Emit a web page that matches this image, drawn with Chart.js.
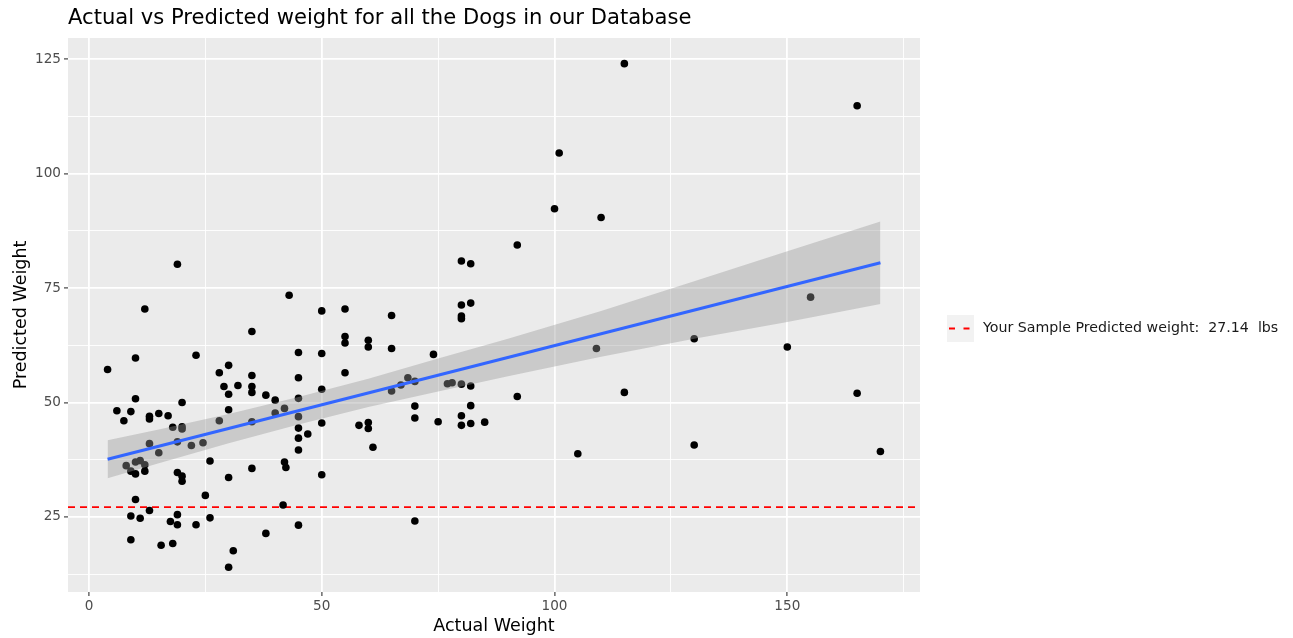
<!DOCTYPE html>
<html>
<head>
<meta charset="utf-8">
<script src="https://cdn.jsdelivr.net/npm/chart.js@4/dist/chart.umd.min.js"></script>
<style>
  html, body { margin: 0; padding: 0; background: #ffffff; }
  #wrap { width: 1293px; height: 638px; }
</style>
</head>
<body>
<div id="wrap"><canvas id="c" width="1293" height="638"></canvas></div>
<script>
// Observed dog weights (lbs) and the model's predictions for each dog
const actualWeight = [
  4, 6, 7.5, 9, 10, 10, 12, 13, 13, 15, 17, 18, 20, 20, 19, 20, 23, 28, 30, 29,
  32, 30, 30, 28, 13, 15, 19, 22, 24.5, 8, 10, 11, 12, 9, 10, 12, 26, 19, 20, 20,
  30, 10, 25, 13, 9, 11, 19, 17.5, 19, 23, 26, 9, 15.5, 18, 31, 30, 43, 50, 55, 65,
  35, 55, 55, 60, 60, 65, 45, 50, 35, 45, 55, 35, 35, 38, 40, 45, 42, 40, 45, 35,
  50, 50, 45, 45, 47, 45, 42, 42.3, 35, 50, 58, 60, 60, 61, 65, 67, 68.5, 70, 70, 70,
  80, 82, 80, 82, 80, 80, 74, 77, 78, 80, 82, 92, 82, 80, 80, 82, 85, 75, 41.7, 38,
  45, 70, 92, 100, 101, 110, 115, 105, 109, 115, 130, 130, 150, 155, 165, 165, 170
];
const predictedWeight = [
  57.2, 48.2, 46.0, 48.0, 59.7, 50.8, 70.4, 47.0, 46.4, 47.6, 47.1, 44.6, 44.7, 44.2, 80.2, 50.0, 60.3, 56.5, 58.1, 53.5,
  53.7, 51.8, 48.4, 46.0, 41.0, 39.0, 41.4, 40.6, 41.2, 36.2, 37.0, 37.3, 36.4, 35.0, 34.4, 35.0, 37.2, 34.7, 33.9, 32.8,
  33.6, 28.8, 29.7, 26.4, 25.2, 24.7, 25.5, 24.0, 23.3, 23.3, 24.8, 20.0, 18.8, 19.2, 17.6, 14.0, 73.4, 70.0, 70.4, 69.0,
  65.5, 64.4, 63.0, 63.6, 62.1, 61.8, 60.9, 60.7, 55.9, 55.4, 56.5, 53.5, 52.2, 51.6, 50.5, 50.9, 48.7, 47.7, 46.9, 45.8,
  52.9, 45.5, 44.4, 42.2, 43.1, 39.6, 37.0, 35.8, 35.6, 34.2, 45.0, 45.6, 44.3, 40.2, 52.5, 53.8, 55.4, 54.6, 49.2, 46.6,
  80.9, 80.3, 71.3, 71.7, 68.9, 68.3, 60.5, 54.1, 54.3, 54.0, 53.6, 51.3, 49.3, 47.1, 45.0, 45.4, 45.7, 45.8, 27.6, 21.4,
  23.2, 24.1, 84.4, 92.3, 104.5, 90.4, 124.0, 38.8, 61.8, 52.2, 63.9, 40.7, 62.1, 73.0, 114.8, 52.0, 39.3
];

// Prediction for the user's own sample
const sampleWeight = 27.14;

// Linear fit and its confidence band
const fitX = [4, 170];
const fitY = [37.6, 80.5];
const bandX = [4, 15, 30, 45, 60, 75, 90, 110, 130, 150, 170];
const bandLower = [33.45, 36.7, 41.1, 45.2, 49.0, 52.4, 55.7, 60.0, 63.9, 67.6, 71.5];
const bandUpper = [41.75, 44.1, 47.5, 51.2, 55.2, 59.6, 63.9, 70.0, 76.5, 83.0, 89.5];

// Axes
const xLimits = [-4.5, 178.5];
const yLimits = [8.6, 129.6];
const xGridValues = [0, 25, 50, 75, 100, 125, 150, 175];
const xLabelValues = [0, 50, 100, 150];
const yGridValues = [12.5, 25, 37.5, 50, 62.5, 75, 87.5, 100, 112.5, 125];
const yLabelValues = [25, 50, 75, 100, 125];

const FONT = "'DejaVu Sans', 'Noto Sans', sans-serif";
Chart.defaults.font.family = FONT;

const legendLabel = `Your Sample Predicted weight:  ${sampleWeight}  lbs`;

// Grey panel behind the grid
const panelPlugin = {
  id: 'panel',
  beforeDraw(chart) {
    const { ctx, chartArea: a } = chart;
    ctx.save();
    ctx.fillStyle = '#EBEBEB';
    ctx.fillRect(a.left, a.top, a.right - a.left, a.bottom - a.top);
    ctx.restore();
  }
};

// Legend for the sample line, to the right of the panel
const sideLegendPlugin = {
  id: 'sideLegend',
  afterDraw(chart) {
    const { ctx, chartArea: a } = chart;
    const ds = chart.data.datasets[0];
    const keyX = a.right + 27, keyY = a.top + 277, keySize = 27;
    ctx.save();
    ctx.fillStyle = '#F2F2F2';
    ctx.fillRect(keyX, keyY, keySize, keySize);
    ctx.strokeStyle = ds.borderColor;
    ctx.lineWidth = ds.borderWidth;
    ctx.setLineDash([6, 8.5]);
    ctx.beginPath();
    ctx.moveTo(keyX + 2, keyY + keySize / 2);
    ctx.lineTo(keyX + keySize - 4, keyY + keySize / 2);
    ctx.stroke();
    ctx.setLineDash([]);
    ctx.fillStyle = '#1A1A1A';
    ctx.font = `14.2px ${FONT}`;
    ctx.textAlign = 'left';
    ctx.textBaseline = 'middle';
    ctx.fillText(ds.label, keyX + keySize + 9, keyY + keySize / 2);
    ctx.restore();
  }
};

const isMajorX = v => xLabelValues.includes(v);
const isMajorY = v => yLabelValues.includes(v);

const points = actualWeight.map((x, i) => ({ x, y: predictedWeight[i] }));

new Chart(document.getElementById('c'), {
  type: 'scatter',
  data: {
    datasets: [
      {
        type: 'line',
        label: legendLabel,
        data: xLimits.map(x => ({ x, y: sampleWeight })),
        borderColor: '#FF0000',
        borderWidth: 1.8,
        borderDash: [7, 5],
        pointRadius: 0,
        fill: false,
        order: 5
      },
      {
        label: 'Dogs',
        data: points,
        pointRadius: 3.8,
        pointBackgroundColor: '#000000',
        pointBorderWidth: 0,
        order: 4
      },
      {
        type: 'line',
        label: 'band lower',
        data: bandX.map((x, i) => ({ x, y: bandLower[i] })),
        borderColor: 'rgba(0,0,0,0)',
        borderWidth: 0,
        pointRadius: 0,
        fill: false,
        order: 3
      },
      {
        type: 'line',
        label: 'band upper',
        data: bandX.map((x, i) => ({ x, y: bandUpper[i] })),
        borderColor: 'rgba(0,0,0,0)',
        borderWidth: 0,
        pointRadius: 0,
        backgroundColor: 'rgba(153,153,153,0.4)',
        fill: '-1',
        order: 3
      },
      {
        type: 'line',
        label: 'fit',
        data: fitX.map((x, i) => ({ x, y: fitY[i] })),
        borderColor: '#3366FF',
        borderWidth: 3,
        pointRadius: 0,
        fill: false,
        order: 2
      }
    ]
  },
  options: {
    responsive: false,
    animation: false,
    devicePixelRatio: 1,
    layout: { padding: { left: 0, right: 373, top: 0, bottom: 0 } },
    plugins: {
      legend: { display: false },
      tooltip: { enabled: false },
      title: {
        display: true,
        text: 'Actual vs Predicted weight for all the Dogs in our Database',
        align: 'start',
        fullSize: false,
        color: '#000000',
        font: { size: 21.1, weight: 'normal', family: FONT },
        padding: { top: 6, bottom: 6.7 }
      }
    },
    scales: {
      x: {
        type: 'linear',
        min: xLimits[0],
        max: xLimits[1],
        afterBuildTicks: s => { s.ticks = xGridValues.map(v => ({ value: v })); },
        afterFit: s => { s.height = 46; },
        border: { display: false },
        grid: {
          color: '#FFFFFF',
          lineWidth: c => (c.tick && isMajorX(c.tick.value)) ? 1.8 : 0.9,
          tickLength: 4,
          tickWidth: 1.1,
          tickColor: c => (c.tick && isMajorX(c.tick.value)) ? '#333333' : 'rgba(0,0,0,0)'
        },
        ticks: {
          autoSkip: false,
          maxRotation: 0,
          padding: 2,
          color: '#4D4D4D',
          font: { size: 13.6, family: FONT },
          callback: v => isMajorX(v) ? String(v) : ''
        },
        title: {
          display: true,
          text: 'Actual Weight',
          color: '#000000',
          font: { size: 17.5, family: FONT },
          padding: { top: 0, bottom: 1.5 }
        }
      },
      y: {
        type: 'linear',
        min: yLimits[0],
        max: yLimits[1],
        afterBuildTicks: s => { s.ticks = yGridValues.map(v => ({ value: v })); },
        afterFit: s => { s.width = 68; },
        border: { display: false },
        grid: {
          color: '#FFFFFF',
          lineWidth: c => (c.tick && isMajorY(c.tick.value)) ? 1.8 : 0.9,
          tickLength: 4,
          tickWidth: 1.1,
          tickColor: c => (c.tick && isMajorY(c.tick.value)) ? '#333333' : 'rgba(0,0,0,0)'
        },
        ticks: {
          autoSkip: false,
          padding: 3,
          color: '#4D4D4D',
          font: { size: 13.6, family: FONT },
          callback: v => isMajorY(v) ? String(v) : ''
        },
        title: {
          display: true,
          text: 'Predicted Weight',
          color: '#000000',
          font: { size: 17.5, family: FONT },
          padding: { top: 10.5, bottom: 0 }
        }
      }
    }
  },
  plugins: [panelPlugin, sideLegendPlugin]
});
</script>
</body>
</html>
